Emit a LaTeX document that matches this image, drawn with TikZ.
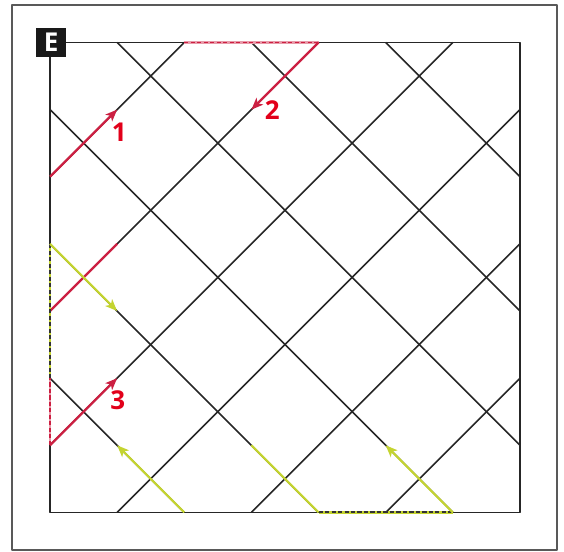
\documentclass[tikz,border=0pt]{standalone}
\usepackage{fontspec}
\setsansfont{Open Sans}
\usetikzlibrary{arrows.meta}
\definecolor{raypink}{RGB}{204,32,66}
\definecolor{labred}{RGB}{226,0,26}
\definecolor{raylime}{RGB}{196,212,48}
\tikzset{
  wall/.style={line width=1.35pt, black!85},
  ray/.style={line width=1.9pt, #1},
  raytip/.style={-{Stealth[length=10pt, width=8pt, inset=2.5pt]}},
  edgetrace/.style={line width=1.6pt, #1, dash pattern=on 3.5pt off 2pt},
  numlabel/.style={text=labred, font=\sffamily\bfseries\fontsize{22}{24}\selectfont},
}
\begin{document}
\begin{tikzpicture}[x=2cm, y=2cm, line join=round]
\useasboundingbox (-0.745,-0.588) rectangle (7.656,7.633);
% outer frame and the square room
\draw[line width=1.7pt, black!65] (-0.56,-0.56) rectangle (7.55,7.56);
\draw[wall] (0,0) rectangle (7,7);
% diagonal mirrors, rising
\foreach \xa/\ya/\xb/\yb in {0/5/2/7, 0/3/4/7, 0/1/6/7, 1/0/7/6, 3/0/7/4, 5/0/7/2}
  \draw[wall] (\xa,\ya) -- (\xb,\yb);
% diagonal mirrors, falling
\foreach \xa/\ya/\xb/\yb in {0/2/2/0, 0/4/4/0, 0/6/6/0, 1/7/7/1, 3/7/7/3, 5/7/7/5}
  \draw[wall] (\xa,\ya) -- (\xb,\yb);
% bounce points of the two rays
\coordinate (pA) at (0,5);
\coordinate (pB) at (1,6);
\coordinate (pC) at (2,7);
\coordinate (pD) at (4,7);
\coordinate (pE) at (3,6);
\coordinate (pF) at (1,4);
\coordinate (pG) at (0,3);
\coordinate (pH) at (0,1);
\coordinate (pI) at (1,2);
\coordinate (qA) at (0,4);
\coordinate (qB) at (1,3);
\coordinate (qC) at (3,1);
\coordinate (qD) at (4,0);
\coordinate (qE) at (6,0);
\coordinate (qF) at (5,1);
\coordinate (qG) at (2,0);
\coordinate (qH) at (1,1);
\coordinate (qI) at (0,2);
% red ray
\draw[ray=raypink!45] (pC) -- (pD);
\draw[edgetrace=raypink] (pC) -- (pD);
\draw[ray=raypink!45] (pG) -- (pH);
\draw[edgetrace=raypink] (pG) -- (pH);
\draw[ray=raypink, raytip] (pA) -- (pB);
\draw[ray=raypink, raytip] (pD) -- (pE);
\draw[ray=raypink] (pF) -- (pG);
\draw[ray=raypink, raytip] (pH) -- (pI);
% yellow ray
\draw[ray=raylime] (qD) -- (qE);
\draw[edgetrace=black!80] (qD) -- (qE);
\draw[ray=raylime] (qI) -- (qA);
\draw[edgetrace=black!80] (qI) -- (qA);
\draw[ray=raylime, raytip] (qA) -- (qB);
\draw[ray=raylime] (qC) -- (qD);
\draw[ray=raylime, raytip] (qE) -- (qF);
\draw[ray=raylime, raytip] (qG) -- (qH);
% labels
\node[numlabel] (lab1) at (1.03,5.67) {1};
\node[numlabel] (lab2) at (3.31,6.0) {2};
\node[numlabel] (lab3) at (1.01,1.67) {3};
\node[fill=black!90, text=white, minimum size=0.89cm, inner sep=0pt,
  font=\sffamily\bfseries\fontsize{22}{24}\selectfont] (tag) at (0.015,7.0) {E};
\end{tikzpicture}
\end{document}
